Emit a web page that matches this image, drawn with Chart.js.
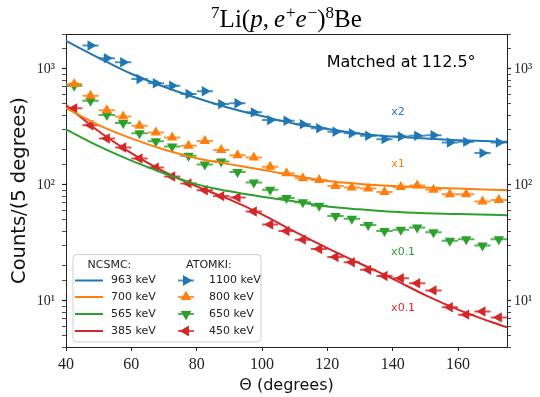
<!DOCTYPE html>
<html><head><meta charset="utf-8">
<script src="https://cdn.jsdelivr.net/npm/chart.js@4.4.0/dist/chart.umd.min.js"></script>
<style>html,body{margin:0;padding:0;background:#fff;}canvas{display:block;}</style>
</head><body>
<canvas id="c" width="540" height="397"></canvas>
<script>
// ---- data ----
const binTheta = [42.5,47.5,52.5,57.5,62.5,67.5,72.5,77.5,82.5,87.5,92.5,97.5,102.5,107.5,112.5,117.5,122.5,127.5,132.5,137.5,142.5,147.5,152.5,157.5,162.5,167.5,172.5];
const binHalfWidth = 2.5;
const atomki1100 = [null,1591,1238,1143,819,752,717,608,641,497,505,422,362,357,334,308,287,279,265,248,261,265,268,232,235,188,232];
const atomki800  = [741,588,441,389,323,283,256,217,239,200,180,172,143,126,114,110,98,95,93,87,96,99,91,83,83,72,74];
const atomki650  = [717,532,400,341,279,238,214,178,150,159,129,105,91,77,71,66,54,51,45,40,41,43,39,33,34,30,34];
const atomki450  = [457,327,251,210,169,141,118,103,90,80,78,59,45.5,40,33.7,28,23.9,21.5,18.5,16.4,15.7,14.2,12.3,8.8,7.6,8.1,7.2];

const curveTheta = [40,50,60,70,80,90,100,110,120,130,140,150,160,170,175];
const ncsmc963 = [1746,1247,908,701,561,461,392,337,303,276,261,251,243,238,235];
const ncsmc700 = [458,328,252,202,170,151,135,120,108,102,98,95,93,91,90];
const ncsmc565 = [301,216,162,126,101,88,79,72,65,61.5,58.6,57,56,55.2,54.8];
const ncsmc385 = [488,290,188,130,97,75,55.6,39.5,28.5,21,15.5,11.2,8.4,6.6,5.9];

const curveLabels = ['963 keV','700 keV','565 keV','385 keV'];
const dataLabels = ['1100 keV','800 keV','650 keV','450 keV'];
const scaleNotes = ['x2','x1','x0.1','x0.1'];
const xTicks = [40,60,80,100,120,140,160];
const yTickText = {1:'10¹',2:'10²',3:'10³'};

// ---- styling ----
const colors = ['#1f77b4','#ff7f0e','#2ca02c','#d62728'];
const barColors = ['rgba(31,119,180,0.8)','rgba(255,127,14,0.8)','rgba(44,160,44,0.8)','rgba(214,39,40,0.8)'];
const rotations = [90,0,180,270];
const notePos = [[141.6,425],[141.6,150],[143.2,26.5],[143.2,8.7]];
const SANS = 'DejaVu Sans';
const SERIF = 'Liberation Serif';

const curves = [ncsmc963,ncsmc700,ncsmc565,ncsmc385];
const points = [atomki1100,atomki800,atomki650,atomki450];

const datasets = [];
curves.forEach((c,k)=>{
  datasets.push({type:'line', label:'NCSMC '+curveLabels[k],
    data: curveTheta.map((t,i)=>({x:t,y:c[i]})),
    borderColor: colors[k], borderWidth: 2, pointRadius: 0, fill:false,
    cubicInterpolationMode:'monotone'});
});
points.forEach((p,k)=>{
  datasets.push({type:'scatter', label:'ATOMKI '+dataLabels[k],
    data: binTheta.map((t,i)=>({x:t,y:p[i]})).filter(d=>d.y!==null),
    backgroundColor: colors[k], borderColor: colors[k], borderWidth: 0,
    pointStyle:'triangle', rotation: rotations[k], pointRadius: 6, pointHoverRadius: 6,
    xErr: binHalfWidth, barColor: barColors[k]});
});

function isDecade(v){ const l=Math.log10(v); return Math.abs(l-Math.round(l))<1e-9; }
function yLabel(v){ return isDecade(v) ? (yTickText[Math.round(Math.log10(v))]||'') : ''; }

const errorBars = {
  id:'errorBars',
  beforeDatasetDraw(chart,args){
    const ds = chart.data.datasets[args.index];
    if(!ds.xErr) return;
    const ctx = chart.ctx, xs = chart.scales.x, ys = chart.scales.y;
    ctx.save();
    ctx.strokeStyle = ds.barColor; ctx.lineWidth = 2;
    ctx.beginPath();
    ds.data.forEach(d=>{
      const y = ys.getPixelForValue(d.y);
      ctx.moveTo(xs.getPixelForValue(d.x-ds.xErr), y);
      ctx.lineTo(xs.getPixelForValue(d.x+ds.xErr), y);
    });
    ctx.stroke();
    ctx.restore();
  }
};

const decor = {
  id:'decor',
  afterDraw(chart){
    const ctx = chart.ctx, a = chart.chartArea, xs = chart.scales.x, ys = chart.scales.y;
    ctx.save();
    // top spine
    ctx.strokeStyle='#222'; ctx.lineWidth=1;
    ctx.beginPath(); ctx.moveTo(a.left,a.top+0.5); ctx.lineTo(a.right,a.top+0.5); ctx.stroke();
    // title with mixed styles (text, style, gap after)
    const parts = [['7','sup',0],['Li(','',0],['p','it',0],[',','',5],['e','it',1],['+','sup',0],['e','it',1],['−','sup',0],[')','',0],['8','sup',0],['Be','',0]];
    const fs=25, ss=17;
    const fontFor = s => s==='sup' ? `${ss}px "${SERIF}"` : (s==='it' ? `italic ${fs}px "${SERIF}"` : `${fs}px "${SERIF}"`);
    let w=0; parts.forEach(p=>{ctx.font=fontFor(p[1]); w+=ctx.measureText(p[0]).width+p[2];});
    let x=(a.left+a.right)/2 - w/2; const base=27;
    ctx.fillStyle='#000'; ctx.textBaseline='alphabetic'; ctx.textAlign='left';
    parts.forEach(p=>{ctx.font=fontFor(p[1]); ctx.fillText(p[0],x,p[1]==='sup'?base-9:base); x+=ctx.measureText(p[0]).width+p[2];});
    // annotation
    ctx.font=`16px "${SANS}"`; ctx.textAlign='center'; ctx.textBaseline='middle';
    ctx.fillText('Matched at 112.5°', xs.getPixelForValue(142.6), ys.getPixelForValue(1130));
    ctx.font=`11px "${SANS}"`;
    scaleNotes.forEach((t,k)=>{ ctx.fillStyle=colors[k]; ctx.fillText(t, xs.getPixelForValue(notePos[k][0]), ys.getPixelForValue(notePos[k][1])); });
    // legend
    const L=a.left+7, T=a.bottom-92.5, W=188, H=87.5, r=4;
    ctx.beginPath();
    ctx.moveTo(L+r,T); ctx.lineTo(L+W-r,T); ctx.quadraticCurveTo(L+W,T,L+W,T+r);
    ctx.lineTo(L+W,T+H-r); ctx.quadraticCurveTo(L+W,T+H,L+W-r,T+H);
    ctx.lineTo(L+r,T+H); ctx.quadraticCurveTo(L,T+H,L,T+H-r);
    ctx.lineTo(L,T+r); ctx.quadraticCurveTo(L,T,L+r,T); ctx.closePath();
    ctx.fillStyle='rgba(255,255,255,0.85)'; ctx.fill();
    ctx.strokeStyle='#d0d0d0'; ctx.lineWidth=1; ctx.stroke();
    ctx.fillStyle='#222'; ctx.font=`11px "${SANS}"`; ctx.textAlign='left'; ctx.textBaseline='middle';
    ctx.fillText('NCSMC:', L+14.5, T+11);
    ctx.fillText('ATOMKI:', L+113, T+11);
    const rows=[T+26,T+42.5,T+59.5,T+76.5];
    rows.forEach((ry,k)=>{
      ctx.strokeStyle=colors[k]; ctx.lineWidth=2;
      ctx.beginPath(); ctx.moveTo(L+2,ry); ctx.lineTo(L+30,ry); ctx.stroke();
      ctx.fillStyle='#222'; ctx.fillText(curveLabels[k], L+38, ry);
      const mx=L+113;
      ctx.strokeStyle=barColors[k]; ctx.lineWidth=2;
      ctx.beginPath(); ctx.moveTo(mx-8,ry); ctx.lineTo(mx+8,ry); ctx.stroke();
      ctx.fillStyle=colors[k];
      Chart.helpers.drawPoint(ctx,{pointStyle:'triangle',rotation:rotations[k],radius:6,borderWidth:0},mx,ry);
      ctx.fill();
      ctx.fillStyle='#222'; ctx.fillText(dataLabels[k], L+136, ry);
    });
    ctx.restore();
  }
};

const yCommon = {
  type:'logarithmic', min:4, max:2000,
  border:{display:true,color:'#222',width:1},
  grid:{display:true,drawOnChartArea:false,drawTicks:true,tickLength:4,tickColor:'#222',
        tickWidth:(c)=> (c.tick && isDecade(c.tick.value)) ? 1.2 : 0.8},
  ticks:{autoSkip:false,callback:yLabel,color:'#222',font:{family:SERIF,size:14},maxRotation:0}
};

new Chart(document.getElementById('c'),{
  type:'scatter',
  data:{datasets},
  options:{
    responsive:false, animation:false, devicePixelRatio:1,
    layout:{padding:{top:34,left:0,right:0,bottom:0}},
    plugins:{legend:{display:false},tooltip:{enabled:false},title:{display:false}},
    scales:{
      x:{type:'linear',min:40,max:175,position:'bottom',
         afterFit(s){s.height=50;},
         afterBuildTicks(s){s.ticks=xTicks.map(v=>({value:v}));},
         border:{display:true,color:'#222',width:1},
         grid:{display:true,drawOnChartArea:false,drawTicks:true,tickLength:4,tickColor:'#222'},
         ticks:{color:'#222',font:{family:SERIF,size:16},padding:4,maxRotation:0},
         title:{display:true,text:'Θ (degrees)',color:'#111',font:{family:SANS,size:16},padding:{top:0,bottom:2}}},
      y:Object.assign({},yCommon,{position:'left',
         afterFit(s){s.width=66;},
         ticks:Object.assign({},yCommon.ticks,{padding:7}),
         title:{display:true,text:'Counts/(5 degrees)',color:'#111',font:{family:SANS,size:19.5},padding:{top:8,bottom:0}}}),
      y2:Object.assign({},yCommon,{position:'right',afterFit(s){s.width=33;},
         ticks:Object.assign({},yCommon.ticks,{padding:3})})
    }
  },
  plugins:[errorBars,decor]
});
</script>
</body></html>
